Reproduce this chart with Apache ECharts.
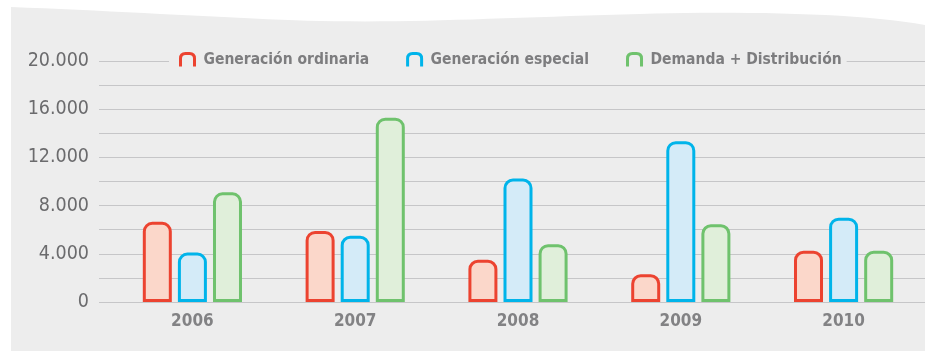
<!DOCTYPE html>
<html>
<head>
<meta charset="utf-8">
<script src="https://cdn.jsdelivr.net/npm/echarts@6/dist/echarts.min.js"></script>
<style>
  html, body { margin: 0; padding: 0; background: #ffffff; }
  #chart { width: 925px; height: 351px; }
</style>
</head>
<body>
<div id="chart"></div>
<script>
// Years on the category axis
const years = ['2006', '2007', '2008', '2009', '2010'];

// Series values
const seriesNames = ['Generación ordinaria', 'Generación especial', 'Demanda + Distribución'];
const generacionOrdinaria = [6650, 5900, 3500, 2300, 4250];
const generacionEspecial = [4100, 5500, 10250, 13350, 7000];
const demandaDistribucion = [9100, 15300, 4800, 6450, 4250];

// Labelled ticks on the value axis
const yTickValues = [0, 4000, 8000, 12000, 16000, 20000];
const yTickLabels = ['0', '4.000', '8.000', '12.000', '16.000', '20.000'];

const strokeColors = ['#ec4330', '#00b4ea', '#6fc26d'];
const fillColors = ['#fbd7ca', '#d4ebf8', '#e0efda'];
const seriesData = [generacionOrdinaria, generacionEspecial, demandaDistribucion];

const FONT = '"DejaVu Sans Condensed", "DejaVu Sans", sans-serif';

// Grey backdrop panel with a gently waving top edge (cubic bezier segments sampled into a polygon)
function backdropPoints() {
  const segs = [
    [[11, 7], [120, 11], [240, 19], [320, 21]],
    [[320, 21], [420, 23], [520, 17], [640, 14]],
    [[640, 14], [740, 11], [860, 13], [925, 25]]
  ];
  const pts = [];
  segs.forEach(function (s) {
    for (let k = 0; k <= 20; k++) {
      const t = k / 20, u = 1 - t;
      const x = u * u * u * s[0][0] + 3 * u * u * t * s[1][0] + 3 * u * t * t * s[2][0] + t * t * t * s[3][0];
      const y = u * u * u * s[0][1] + 3 * u * u * t * s[1][1] + 3 * u * t * t * s[2][1] + t * t * t * s[3][1];
      pts.push([x, y]);
    }
  });
  pts.push([925, 351], [11, 351]);
  return pts;
}

const chart = echarts.init(document.getElementById('chart'), null, { renderer: 'canvas' });

// Open arch used as legend marker
const archIcon = 'path://M0,13 L0,5 Q0,0 5,0 L9,0 Q14,0 14,5 L14,13';

const option = {
  backgroundColor: '#ffffff',
  animation: false,
  graphic: [{
    type: 'polygon',
    z: -100,
    silent: true,
    shape: { points: backdropPoints() },
    style: { fill: '#ededed' }
  }],
  legend: {
    top: 48,
    left: 169,
    padding: [3, 5, 3, 9],
    backgroundColor: '#ededed',
    itemWidth: 14,
    itemHeight: 13,
    itemGap: 36,
    textStyle: {
      fontFamily: FONT,
      fontSize: 15.5,
      fontWeight: 'bold',
      color: '#7d7d7f',
      padding: [0, 0, 0, 4]
    },
    data: seriesNames.map((name, i) => ({
      name: name,
      icon: archIcon,
      itemStyle: { color: 'none', borderColor: strokeColors[i], borderWidth: 3 }
    }))
  },
  grid: [
    { left: 99, right: 0, top: 61, bottom: 49 },
    { left: 111, right: 0, top: 61, bottom: 49 }
  ],
  xAxis: [
    { type: 'value', gridIndex: 0, show: false, min: 0, max: 1 },
    {
      type: 'category',
      gridIndex: 1,
      data: years,
      axisLine: { show: false },
      axisTick: { show: false },
      axisLabel: {
        margin: 11,
        fontFamily: FONT,
        fontSize: 17,
        fontWeight: 'bold',
        color: '#828284'
      }
    }
  ],
  yAxis: [
    {
      type: 'value',
      gridIndex: 0,
      min: 0,
      max: 20000,
      interval: 2000,
      axisLine: { show: false },
      axisTick: { show: false },
      splitLine: { lineStyle: { color: '#c6c6c8', width: 1.2 } },
      axisLabel: {
        margin: 10,
        fontFamily: FONT,
        fontSize: 19.5,
        color: '#6b6b6d',
        formatter: function (v) {
          const idx = yTickValues.indexOf(v);
          return idx >= 0 ? yTickLabels[idx] : '';
        }
      }
    },
    { type: 'value', gridIndex: 1, min: 0, max: 20000, show: false, splitLine: { show: false } }
  ],
  series: seriesNames.map((name, i) => ({
    name: name,
    type: 'bar',
    xAxisIndex: 1,
    yAxisIndex: 1,
    barWidth: 29,
    barGap: '21%',
    data: seriesData[i],
    itemStyle: {
      color: fillColors[i],
      borderColor: strokeColors[i],
      borderWidth: 3,
      borderRadius: [8, 8, 0, 0]
    }
  }))
};

chart.setOption(option);
</script>
</body>
</html>
